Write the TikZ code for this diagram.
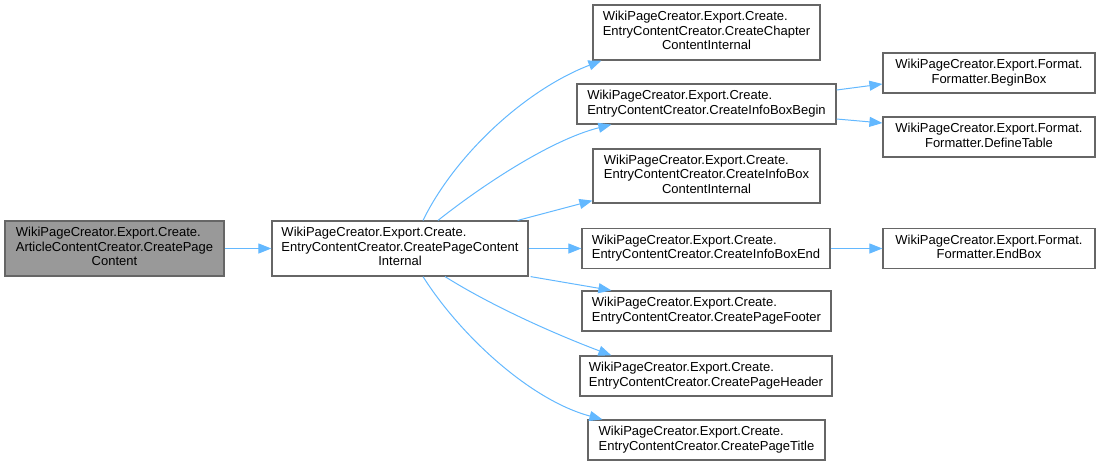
\documentclass[tikz,border=0pt]{standalone}
\usepackage{fontspec}
\setsansfont{Liberation Sans}
\usetikzlibrary{arrows.meta}
\definecolor{edgeblue}{HTML}{63B8FF}
\definecolor{boxline}{HTML}{666666}
\definecolor{rootfill}{HTML}{999999}
% doxygen-like label: left-aligned lines, last line centred
\newcommand{\doxlbl}[2]{\begin{tabular}{@{}l@{}}#1\\\multicolumn{1}{@{}c@{}}{#2}\end{tabular}}

\begin{document}
\begin{tikzpicture}[x=1pt, y=-1pt,
  fn/.style={rectangle, draw=boxline, fill=white, line width=1.2pt, inner sep=0pt, minimum height=40pt, font=\sffamily\fontsize{13}{14.5}\selectfont},
  root/.style={fn, fill=rootfill},
  arr/.style={-{Triangle[length=13pt,width=10pt]}, draw=edgeblue, line width=1pt}
]
\useasboundingbox (0,0) rectangle (1100,466);
\node[root, minimum width=219pt, minimum height=55pt] (art) at (114.5,248.5) {\doxlbl{WikiPageCreator.Export.Create.\\ArticleContentCreator.CreatePage}{Content}};
\node[fn, minimum width=256pt, minimum height=55pt] (page) at (400,248.5) {\doxlbl{WikiPageCreator.Export.Create.\\EntryContentCreator.CreatePageContent}{Internal}};
\node[fn, minimum width=227pt, minimum height=55pt] (chap) at (706.5,32.5) {\doxlbl{WikiPageCreator.Export.Create.\\EntryContentCreator.CreateChapter}{ContentInternal}};
\node[fn, minimum width=259pt] (ibbegin) at (706.5,104) {\doxlbl{WikiPageCreator.Export.Create.}{EntryContentCreator.CreateInfoBoxBegin}};
\node[fn, minimum width=227pt, minimum height=54pt] (ibcont) at (706.5,176) {\doxlbl{WikiPageCreator.Export.Create.\\EntryContentCreator.CreateInfoBox}{ContentInternal}};
\node[fn, minimum width=248pt] (ibend) at (706,248.5) {\doxlbl{WikiPageCreator.Export.Create.}{EntryContentCreator.CreateInfoBoxEnd}};
\node[fn, minimum width=249pt] (footer) at (706.5,311) {\doxlbl{WikiPageCreator.Export.Create.}{EntryContentCreator.CreatePageFooter}};
\node[fn, minimum width=252pt] (header) at (706,376) {\doxlbl{WikiPageCreator.Export.Create.}{EntryContentCreator.CreatePageHeader}};
\node[fn, minimum width=237pt] (title) at (706.5,440) {\doxlbl{WikiPageCreator.Export.Create.}{EntryContentCreator.CreatePageTitle}};
\node[fn, minimum width=212pt] (beginbox) at (989,73) {\doxlbl{WikiPageCreator.Export.Format.}{Formatter.BeginBox}};
\node[fn, minimum width=212pt] (deftable) at (989,137) {\doxlbl{WikiPageCreator.Export.Format.}{Formatter.DefineTable}};
\node[fn, minimum width=212pt] (endbox) at (989,248.5) {\doxlbl{WikiPageCreator.Export.Format.}{Formatter.EndBox}};
\draw[arr] (art) -- (page);
\draw[arr] ([xshift=23pt]page.north) .. controls (455,155) and (525,90) .. ([xshift=9pt]chap.south west);
\draw[arr] ([xshift=38pt]page.north) .. controls (480,187) and (550,140) .. ([xshift=35pt]ibbegin.south west);
\draw[arr] ([xshift=-11pt]page.north east) -- ([yshift=3pt]ibcont.south west);
\draw[arr] (page) -- (ibend);
\draw[arr] ([xshift=2pt]page.south east) -- ([xshift=30pt]footer.north west);
\draw[arr] ([xshift=45pt]page.south) .. controls (495,308) and (560,336) .. ([xshift=32pt]header.north west);
\draw[arr] ([xshift=23pt]page.south) .. controls (460,335) and (530,400) .. ([xshift=15pt]title.north west);
\draw[arr] ([yshift=14pt]ibbegin.east) -- ([yshift=-11pt]beginbox.west);
\draw[arr] ([yshift=-15pt]ibbegin.east) -- ([yshift=14pt]deftable.west);
\draw[arr] (ibend) -- (endbox);
\end{tikzpicture}
\end{document}
